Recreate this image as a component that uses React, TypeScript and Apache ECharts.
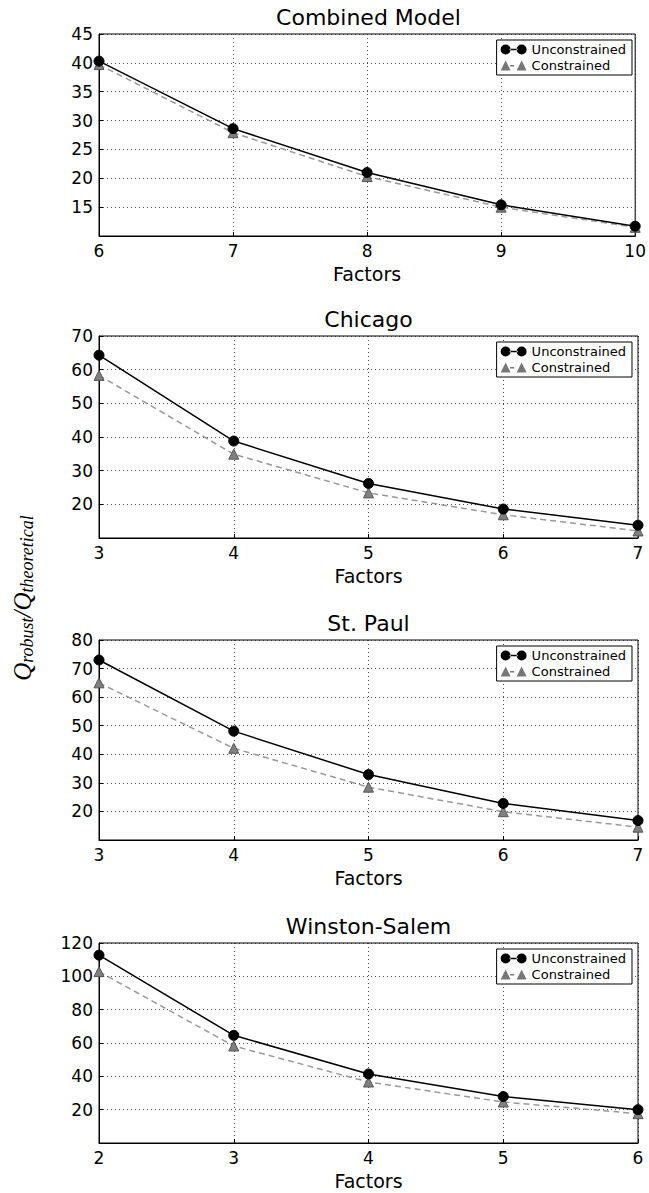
import React, { useEffect, useRef } from "react";
import * as echarts from "echarts";

const panelTitles = ["Combined Model", "Chicago", "St. Paul", "Winston-Salem"];
const seriesNames = ["Unconstrained", "Constrained"];

const combinedFactors = [6, 7, 8, 9, 10];
const combinedUnconstrained = [40.3, 28.6, 21.0, 15.4, 11.7];
const combinedConstrained = [39.7, 27.9, 20.3, 15.0, 11.5];

const chicagoFactors = [3, 4, 5, 6, 7];
const chicagoUnconstrained = [64.3, 38.8, 26.2, 18.6, 13.8];
const chicagoConstrained = [58.3, 34.9, 23.4, 16.9, 12.1];

const stPaulFactors = [3, 4, 5, 6, 7];
const stPaulUnconstrained = [73.0, 48.1, 32.9, 22.8, 16.8];
const stPaulConstrained = [65.0, 42.1, 28.5, 19.9, 14.5];

const winstonFactors = [2, 3, 4, 5, 6];
const winstonUnconstrained = [112.7, 64.6, 41.4, 27.9, 20.0];
const winstonConstrained = [102.8, 58.2, 36.6, 24.6, 17.6];

const yMins = [10, 10, 10, 0];
const yMaxs = [45, 70, 80, 120];
const yIntervals = [5, 10, 10, 20];

const panels = [
  { factors: combinedFactors, unc: combinedUnconstrained, con: combinedConstrained },
  { factors: chicagoFactors, unc: chicagoUnconstrained, con: chicagoConstrained },
  { factors: stPaulFactors, unc: stPaulUnconstrained, con: stPaulConstrained },
  { factors: winstonFactors, unc: winstonUnconstrained, con: winstonConstrained },
];

const gridTops = [34, 336, 640, 943];
const gridHeights = [202, 202, 200, 200];
const gridLeft = 99;
const gridRight = 11;
const W = 649;
const H = 1193;

const FONT = "DejaVu Sans";

const circleIcon =
  "path://M0,5 A5,5 0 1,0 10,5 A5,5 0 1,0 0,5 Z M9,4.2 L17,4.2 L17,5.8 L9,5.8 Z M16,5 A5,5 0 1,0 26,5 A5,5 0 1,0 16,5 Z";
const triangleIcon =
  "path://M0,10 L5,0 L10,10 Z M9.5,4.6 L13.5,4.6 L13.5,6 L9.5,6 Z M16,10 L21,0 L26,10 Z";

export default function App() {
  const ref = useRef<HTMLDivElement>(null);
  useEffect(() => {
    document.body.style.margin = "0";
    if (!ref.current) return;
    const chart = echarts.init(ref.current, null, { renderer: "svg" });
    const grids: any[] = [];
    const xAxes: any[] = [];
    const yAxes: any[] = [];
    const series: any[] = [];
    const titles: any[] = [];
    const legends: any[] = [];
    const center = gridLeft + (W - gridLeft - gridRight) / 2;
    const splitStyle = { color: "#222", width: 0.8, type: [1, 3] };
    panels.forEach((p, i) => {
      grids.push({
        left: gridLeft,
        right: gridRight,
        top: gridTops[i],
        height: gridHeights[i],
        show: true,
        borderColor: "#000",
        borderWidth: 1,
        backgroundColor: "transparent",
      });
      xAxes.push({
        type: "value",
        gridIndex: i,
        min: p.factors[0],
        max: p.factors[p.factors.length - 1],
        interval: 1,
        name: "Factors",
        nameLocation: "middle",
        nameGap: 28,
        nameTextStyle: { fontFamily: FONT, fontSize: 19, color: "#000" },
        axisLine: { show: true, lineStyle: { color: "#000", width: 1 } },
        axisTick: { show: true, inside: true, length: 4, lineStyle: { color: "#000" } },
        axisLabel: { fontFamily: FONT, fontSize: 17, color: "#000", margin: 6 },
        splitLine: { show: true, lineStyle: splitStyle },
      });
      yAxes.push({
        type: "value",
        gridIndex: i,
        min: yMins[i],
        max: yMaxs[i],
        interval: yIntervals[i],
        axisLine: { show: true, lineStyle: { color: "#000", width: 1 } },
        axisTick: { show: true, inside: true, length: 4, lineStyle: { color: "#000" } },
        axisLabel: {
          fontFamily: FONT,
          fontSize: 17,
          color: "#000",
          margin: 6,
          showMinLabel: false,
        },
        splitLine: { show: true, lineStyle: splitStyle },
      });
      series.push({
        type: "line",
        name: seriesNames[0],
        xAxisIndex: i,
        yAxisIndex: i,
        data: p.factors.map((f, k) => [f, p.unc[k]]),
        symbol: "circle",
        symbolSize: 10,
        lineStyle: { color: "#000", width: 1.5 },
        itemStyle: { color: "#000", borderColor: "#000", borderWidth: 1 },
        z: 3,
      });
      series.push({
        type: "line",
        name: seriesNames[1],
        xAxisIndex: i,
        yAxisIndex: i,
        data: p.factors.map((f, k) => [f, p.con[k]]),
        symbol: "triangle",
        symbolSize: 10,
        lineStyle: { color: "#999", width: 1.5, type: [6, 4] },
        itemStyle: { color: "#808080", borderColor: "#555", borderWidth: 1 },
        z: 2,
      });
      titles.push({
        text: panelTitles[i],
        left: center,
        textAlign: "center",
        top: gridTops[i] - 28,
        padding: 0,
        textStyle: { fontFamily: FONT, fontSize: 22, fontWeight: "normal", color: "#000" },
      });
      legends.push({
        data: [
          { name: seriesNames[0], icon: circleIcon, itemStyle: { color: "#000", borderWidth: 0 } },
          { name: seriesNames[1], icon: triangleIcon, itemStyle: { color: "#777", borderWidth: 0 } },
        ],
        orient: "vertical",
        right: gridRight + 6,
        top: gridTops[i] + 6,
        backgroundColor: "#fff",
        borderColor: "#000",
        borderWidth: 1,
        borderRadius: 0,
        padding: [3, 6, 3, 4],
        itemGap: 3,
        itemWidth: 26,
        itemHeight: 10,
        selectedMode: false,
        textStyle: { fontFamily: FONT, fontSize: 13, color: "#000" },
      });
    });
    chart.setOption({
      animation: false,
      backgroundColor: "#fff",
      title: titles,
      legend: legends,
      grid: grids,
      xAxis: xAxes,
      yAxis: yAxes,
      series,
      graphic: [
        {
          type: "text",
          x: 22,
          y: 598,
          rotation: Math.PI / 2,
          style: {
            text: "{q|Q}{s|robust}{q|/Q}{s|theoretical}",
            align: "center",
            verticalAlign: "middle",
            fill: "#000",
            rich: {
              q: { fontFamily: "Liberation Serif", fontStyle: "italic", fontSize: 25, lineHeight: 28, fill: "#000" },
              s: {
                fontFamily: "Liberation Serif",
                fontStyle: "italic",
                fontSize: 18,
                lineHeight: 16,
                verticalAlign: "bottom",
                fill: "#000",
              },
            },
          },
        },
      ],
    });
    return () => chart.dispose();
  }, []);
  return <div ref={ref} style={{ width: W, height: H }} />;
}
